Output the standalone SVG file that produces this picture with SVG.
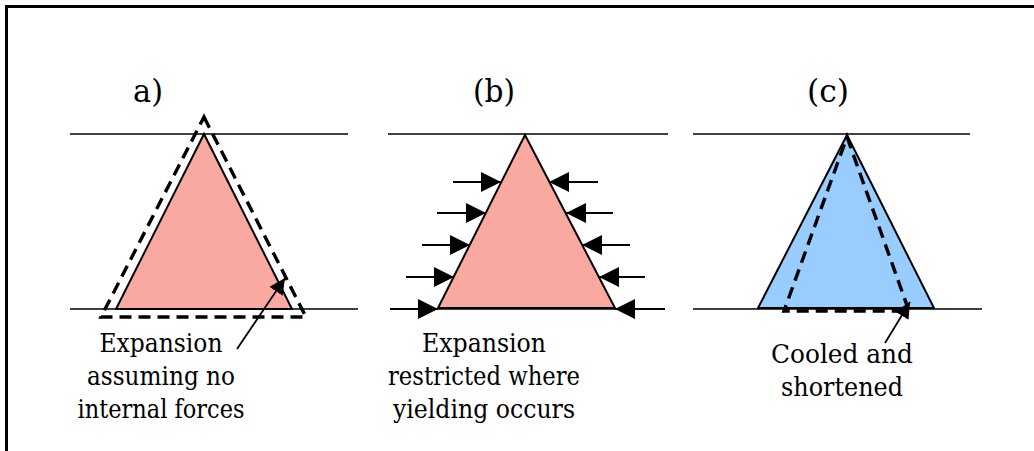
<svg xmlns="http://www.w3.org/2000/svg" width="1034" height="451" viewBox="0 0 1034 451">
<style>
.t{fill:#000;text-anchor:middle}
.lbl{font-size:32px}
.txt{font-size:25.5px}
.ln{stroke:#000;stroke-width:1.6;fill:none}
.tri{stroke:#000;stroke-width:2}
.dash{fill:none;stroke:#000;stroke-width:3.4;stroke-dasharray:12 7}
.arr{stroke:#000;stroke-width:1.8;fill:none;marker-end:url(#ah)}
</style>
<defs>
<marker id="ah" markerUnits="userSpaceOnUse" markerWidth="20" markerHeight="20" viewBox="0 0 18 18" refX="18" refY="9" orient="auto">
<path d="M0,0 L18,9 L0,18 z" fill="#000"/>
</marker>
<marker id="ah2" markerUnits="userSpaceOnUse" markerWidth="16" markerHeight="16" viewBox="0 0 16 16" refX="16" refY="8" orient="auto">
<path d="M0,0 L16,8 L0,16 z" fill="#000"/>
</marker>
</defs>
<rect width="1034" height="451" fill="#fff"/>
<path d="M6.5,460 L6.5,6.5 L1040,6.5" fill="none" stroke="#000" stroke-width="3"/>

<g font-family="DejaVu Serif, serif">
<g id="panel-a">
<text class="t lbl" x="148" y="102" textLength="30" lengthAdjust="spacingAndGlyphs">a)</text>
<line class="ln" x1="70" y1="134" x2="348" y2="134"/>
<line class="ln" x1="70" y1="309" x2="358" y2="309"/>
<polygon class="tri" points="204,134 292,309 116,309" fill="#FAA9A0"/>
<polygon class="dash" points="204,117 306,317 101,317"/>
<text class="t txt" x="161" y="352" textLength="123" lengthAdjust="spacingAndGlyphs">Expansion</text>
<text class="t txt" x="161" y="385" textLength="148" lengthAdjust="spacingAndGlyphs">assuming no</text>
<text class="t txt" x="161" y="418" textLength="167" lengthAdjust="spacingAndGlyphs">internal forces</text>
</g>

<g id="panel-b">
<text class="t lbl" x="494" y="102" textLength="42" lengthAdjust="spacingAndGlyphs">(b)</text>
<line class="ln" x1="388" y1="134" x2="668" y2="134"/>
<line class="ln" x1="390" y1="309" x2="665" y2="309"/>
<polygon class="tri" points="525,135 615,308 438,308" fill="#FAA9A0"/>
<text class="t txt" x="484" y="352" textLength="124" lengthAdjust="spacingAndGlyphs">Expansion</text>
<text class="t txt" x="484" y="385" textLength="192" lengthAdjust="spacingAndGlyphs">restricted where</text>
<text class="t txt" x="484" y="418" textLength="182" lengthAdjust="spacingAndGlyphs">yielding occurs</text>
</g>

<g id="panel-c">
<text class="t lbl" x="828" y="102" textLength="42" lengthAdjust="spacingAndGlyphs">(c)</text>
<line class="ln" x1="693" y1="134" x2="970" y2="134"/>
<line class="ln" x1="693" y1="309" x2="982" y2="309"/>
<polygon class="tri" points="847,135 934,308 758,308" fill="#99CCFF"/>
<polygon class="dash" points="847,137 909,311 784,311"/>
<text class="t txt" x="842" y="363" textLength="142" lengthAdjust="spacingAndGlyphs">Cooled and</text>
<text class="t txt" x="842" y="396" textLength="122" lengthAdjust="spacingAndGlyphs">shortened</text>
</g>
</g>

<g id="connectors">
<line class="arr" style="marker-end:url(#ah2)" x1="237" y1="349" x2="285" y2="278"/>
<line class="arr" style="marker-end:url(#ah2)" x1="885" y1="343" x2="910" y2="302"/>
<line class="arr" x1="453" y1="182" x2="501" y2="182"/>
<line class="arr" x1="437" y1="213" x2="486" y2="213"/>
<line class="arr" x1="422" y1="245" x2="470" y2="245"/>
<line class="arr" x1="406" y1="277" x2="454" y2="277"/>
<line class="arr" x1="390" y1="309" x2="438" y2="309"/>
<line class="arr" x1="598" y1="182" x2="549" y2="182"/>
<line class="arr" x1="613" y1="213" x2="566" y2="213"/>
<line class="arr" x1="630" y1="245" x2="582" y2="245"/>
<line class="arr" x1="645" y1="277" x2="599" y2="277"/>
<line class="arr" x1="665" y1="309" x2="615" y2="309"/>
</g>
</svg>
